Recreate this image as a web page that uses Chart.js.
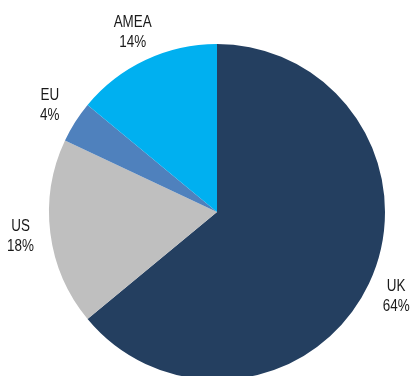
<!DOCTYPE html>
<html>
<head>
<meta charset="utf-8">
<script src="https://cdn.jsdelivr.net/npm/chart.js@4/dist/chart.umd.min.js"></script>
<style>
  html, body { margin: 0; padding: 0; background: #fff; overflow: hidden; }
  #wrap { width: 411px; height: 376px; overflow: hidden; }
</style>
</head>
<body>
<div id="wrap"><canvas id="pie" width="411" height="380"></canvas></div>
<script>
// Regional split, clockwise from 12 o'clock
const regions = ['UK', 'US', 'EU', 'AMEA'];
const shares = [64, 18, 4, 14];
const sliceColors = ['#243F60', '#BFBFBF', '#4F81BD', '#00B0F0'];

// Name + percentage placed just outside each slice (slightly condensed type)
const outsideLabels = {
  id: 'outsideLabels',
  afterDatasetsDraw(chart) {
    const ctx = chart.ctx;
    const meta = chart.getDatasetMeta(0);
    const squeeze = 0.84;
    ctx.save();
    ctx.font = '16px "Liberation Sans", Arial, sans-serif';
    ctx.fillStyle = '#1a1a1a';
    ctx.textAlign = 'center';
    ctx.textBaseline = 'middle';
    meta.data.forEach((arc, i) => {
      const { startAngle, endAngle, outerRadius, x, y } = arc.getProps(['startAngle', 'endAngle', 'outerRadius', 'x', 'y'], true);
      const mid = (startAngle + endAngle) / 2;
      const r = outerRadius + 30;
      const lx = x + Math.cos(mid) * r;
      const ly = y + Math.sin(mid) * r;
      ctx.save();
      ctx.translate(lx, ly);
      ctx.scale(squeeze, 1);
      ctx.fillText(regions[i], 0, -10);
      ctx.fillText(shares[i] + '%', 0, 10);
      ctx.restore();
    });
    ctx.restore();
  }
};

new Chart(document.getElementById('pie'), {
  type: 'pie',
  data: {
    labels: regions,
    datasets: [{
      data: shares,
      backgroundColor: sliceColors,
      borderWidth: 0,
      hoverOffset: 0
    }]
  },
  options: {
    responsive: false,
    animation: false,
    layout: { padding: { left: 49, right: 26, top: 44, bottom: 0 } },
    plugins: {
      legend: { display: false },
      tooltip: { enabled: false }
    }
  },
  plugins: [outsideLabels]
});
</script>
</body>
</html>
